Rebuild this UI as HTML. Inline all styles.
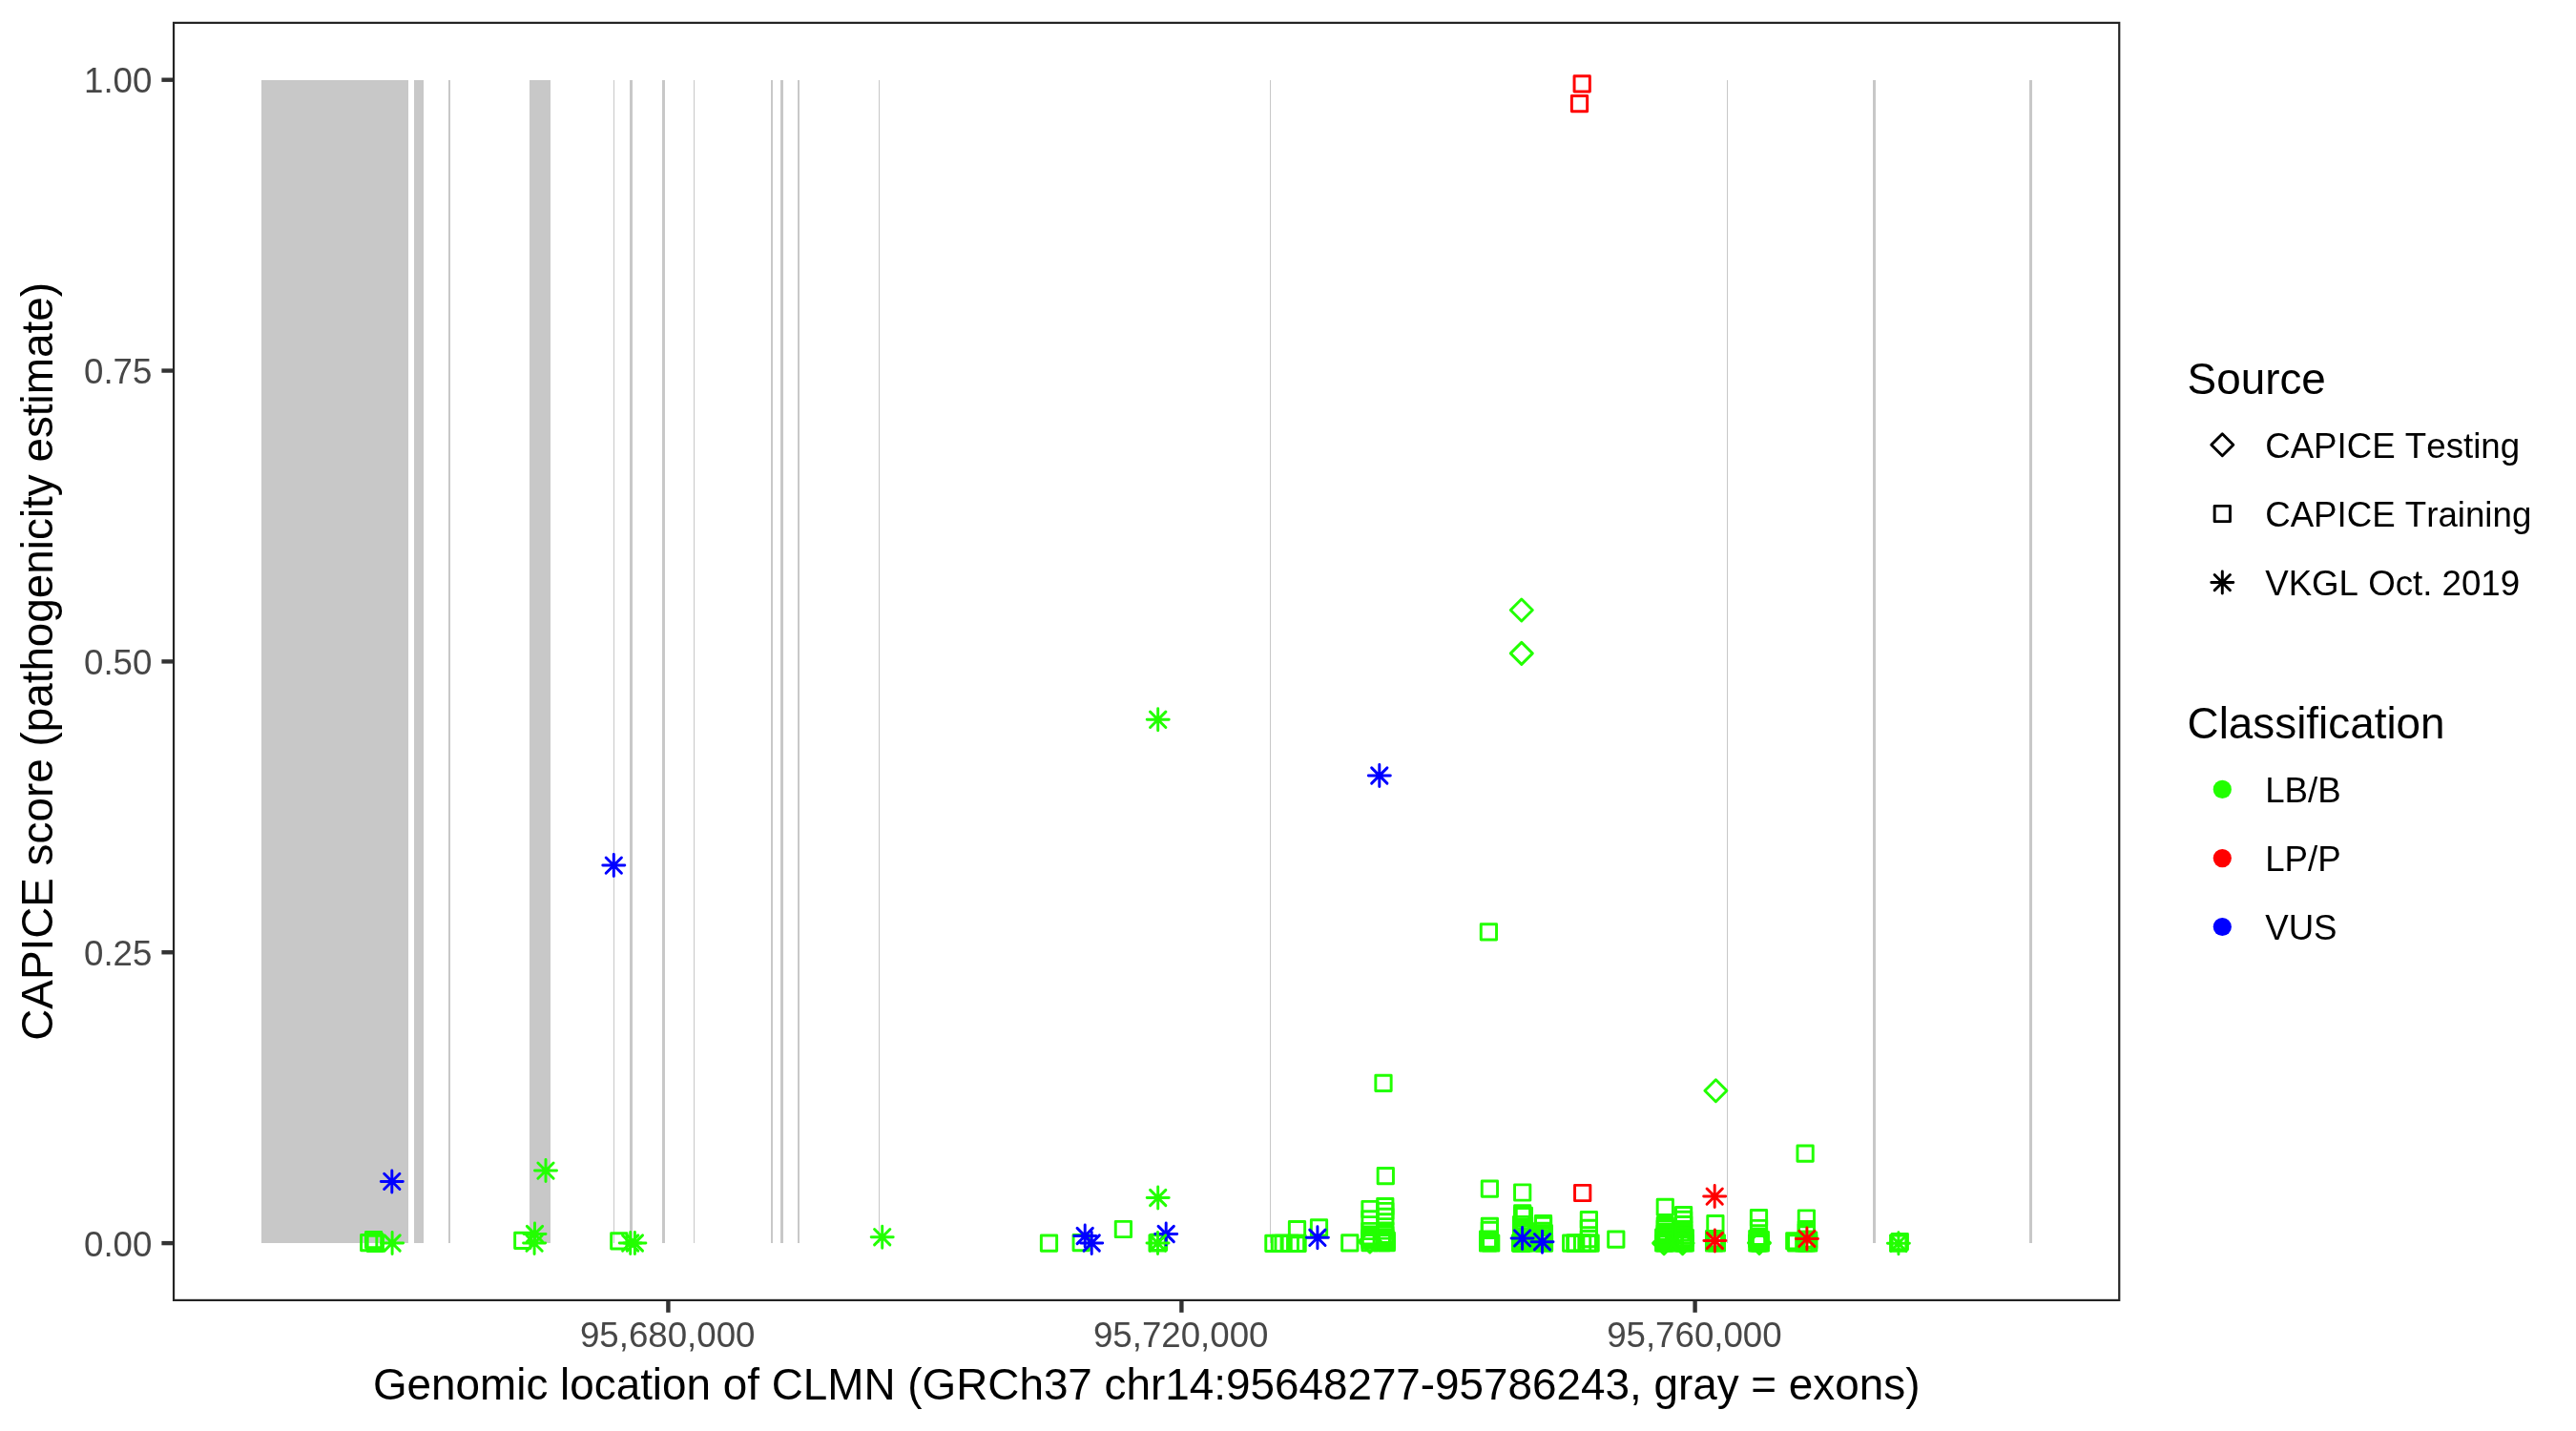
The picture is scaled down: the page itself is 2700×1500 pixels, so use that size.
<!DOCTYPE html>
<html><head><meta charset="utf-8"><title>CLMN CAPICE scores</title>
<style>
html,body{margin:0;padding:0;background:#fff;}
body{width:2700px;height:1500px;overflow:hidden;}
svg{display:block;will-change:transform;font-kerning:none;font-variant-ligatures:none;font-feature-settings:"kern" 0,"liga" 0;font-family:"Liberation Sans",sans-serif;}
</style></head><body>
<svg width="2700" height="1500" viewBox="0 0 2700 1500">
<defs>
<rect id="sq" x="-8.14" y="-8.14" width="16.28" height="16.28" fill="none" stroke-width="2.95" stroke-linejoin="round"/>
<path id="st" d="M-11.51,0H11.51M0,-11.51V11.51M-8.14,-8.14L8.14,8.14M-8.14,8.14L8.14,-8.14" fill="none" stroke-width="2.95" stroke-linecap="round"/>
<path id="di" d="M-11.51,0L0,-11.51L11.51,0L0,11.51Z" fill="none" stroke-width="2.95" stroke-linejoin="round"/>
</defs>
<rect x="0" y="0" width="2700" height="1500" fill="#ffffff"/>
<g fill="#c8c8c8" shape-rendering="crispEdges"><rect x="274.0" y="83.9" width="153.9" height="1219.0"/><rect x="434.0" y="83.9" width="10.0" height="1219.0"/><rect x="470.0" y="83.9" width="2.0" height="1219.0"/><rect x="554.9" y="83.9" width="22.1" height="1219.0"/><rect x="643.0" y="83.9" width="1.0" height="1219.0"/><rect x="660.0" y="83.9" width="3.0" height="1219.0"/><rect x="694.0" y="83.9" width="3.0" height="1219.0"/><rect x="727.0" y="83.9" width="1.0" height="1219.0"/><rect x="808.0" y="83.9" width="2.0" height="1219.0"/><rect x="818.0" y="83.9" width="3.0" height="1219.0"/><rect x="836.0" y="83.9" width="2.0" height="1219.0"/><rect x="921.0" y="83.9" width="1.0" height="1219.0"/><rect x="1331.0" y="83.9" width="1.0" height="1219.0"/><rect x="1810.0" y="83.9" width="1.0" height="1219.0"/><rect x="1963.0" y="83.9" width="3.0" height="1219.0"/><rect x="2127.0" y="83.9" width="3.0" height="1219.0"/></g>
<g><use href="#sq" x="386.7" y="1302.7" stroke="#22ff00"/><use href="#sq" x="391.6" y="1299.6" stroke="#22ff00"/><use href="#sq" x="393.3" y="1303.4" stroke="#22ff00"/><use href="#sq" x="392.6" y="1301.5" stroke="#22ff00"/><use href="#sq" x="547.8" y="1300.3" stroke="#22ff00"/><use href="#sq" x="648.8" y="1300.9" stroke="#22ff00"/><use href="#sq" x="1099.5" y="1303.2" stroke="#22ff00"/><use href="#sq" x="1133.2" y="1302.7" stroke="#22ff00"/><use href="#sq" x="1177.4" y="1288.5" stroke="#22ff00"/><use href="#sq" x="1213.1" y="1303.0" stroke="#22ff00"/><use href="#sq" x="1214.5" y="1302.3" stroke="#22ff00"/><use href="#sq" x="1334.9" y="1303.3" stroke="#22ff00"/><use href="#sq" x="1341.4" y="1303.3" stroke="#22ff00"/><use href="#sq" x="1345.1" y="1303.3" stroke="#22ff00"/><use href="#sq" x="1352.3" y="1303.3" stroke="#22ff00"/><use href="#sq" x="1358.5" y="1303.3" stroke="#22ff00"/><use href="#sq" x="1360.1" y="1303.3" stroke="#22ff00"/><use href="#sq" x="1359.5" y="1288.6" stroke="#22ff00"/><use href="#sq" x="1382.5" y="1286.9" stroke="#22ff00"/><use href="#sq" x="1414.8" y="1302.9" stroke="#22ff00"/><use href="#sq" x="1436.0" y="1267.5" stroke="#22ff00"/><use href="#sq" x="1436.0" y="1277.8" stroke="#22ff00"/><use href="#sq" x="1436.0" y="1295.8" stroke="#22ff00"/><use href="#sq" x="1436.0" y="1299.8" stroke="#22ff00"/><use href="#sq" x="1436.0" y="1302.6" stroke="#22ff00"/><use href="#sq" x="1448.4" y="1300.0" stroke="#22ff00"/><use href="#sq" x="1448.4" y="1302.6" stroke="#22ff00"/><use href="#sq" x="1451.8" y="1264.6" stroke="#22ff00"/><use href="#sq" x="1451.8" y="1269.5" stroke="#22ff00"/><use href="#sq" x="1451.8" y="1275.3" stroke="#22ff00"/><use href="#sq" x="1451.8" y="1294.4" stroke="#22ff00"/><use href="#sq" x="1451.8" y="1297.3" stroke="#22ff00"/><use href="#sq" x="1453.3" y="1300.3" stroke="#22ff00"/><use href="#sq" x="1453.3" y="1302.6" stroke="#22ff00"/><use href="#sq" x="1436.0" y="1297.8" stroke="#22ff00"/><use href="#sq" x="1451.8" y="1299.0" stroke="#22ff00"/><use href="#sq" x="1436.0" y="1290.5" stroke="#22ff00"/><use href="#sq" x="1451.8" y="1290.0" stroke="#22ff00"/><use href="#sq" x="1452.3" y="1232.6" stroke="#22ff00"/><use href="#sq" x="1450.0" y="1135.3" stroke="#22ff00"/><use href="#sq" x="1560.4" y="976.9" stroke="#22ff00"/><use href="#sq" x="1561.4" y="1246.2" stroke="#22ff00"/><use href="#sq" x="1561.4" y="1285.4" stroke="#22ff00"/><use href="#sq" x="1561.4" y="1289.3" stroke="#22ff00"/><use href="#sq" x="1559.6" y="1299.0" stroke="#22ff00"/><use href="#sq" x="1562.7" y="1303.0" stroke="#22ff00"/><use href="#sq" x="1559.6" y="1303.0" stroke="#22ff00"/><use href="#sq" x="1561.4" y="1301.0" stroke="#22ff00"/><use href="#sq" x="1595.7" y="1250.0" stroke="#22ff00"/><use href="#sq" x="1595.7" y="1271.8" stroke="#22ff00"/><use href="#sq" x="1595.7" y="1274.3" stroke="#22ff00"/><use href="#sq" x="1594.6" y="1283.5" stroke="#22ff00"/><use href="#sq" x="1597.4" y="1286.0" stroke="#22ff00"/><use href="#sq" x="1594.6" y="1288.5" stroke="#22ff00"/><use href="#sq" x="1597.4" y="1291.0" stroke="#22ff00"/><use href="#sq" x="1594.6" y="1293.5" stroke="#22ff00"/><use href="#sq" x="1597.4" y="1296.0" stroke="#22ff00"/><use href="#sq" x="1594.6" y="1298.5" stroke="#22ff00"/><use href="#sq" x="1597.4" y="1301.0" stroke="#22ff00"/><use href="#sq" x="1594.6" y="1303.5" stroke="#22ff00"/><use href="#sq" x="1593.6" y="1303.0" stroke="#22ff00"/><use href="#sq" x="1597.2" y="1303.0" stroke="#22ff00"/><use href="#sq" x="1597.4" y="1274.3" stroke="#22ff00"/><use href="#sq" x="1606.5" y="1303.0" stroke="#22ff00"/><use href="#sq" x="1606.5" y="1297.0" stroke="#22ff00"/><use href="#sq" x="1606.5" y="1300.0" stroke="#22ff00"/><use href="#sq" x="1617.5" y="1282.7" stroke="#22ff00"/><use href="#sq" x="1617.5" y="1284.5" stroke="#22ff00"/><use href="#sq" x="1616.6" y="1290.3" stroke="#22ff00"/><use href="#sq" x="1618.4" y="1292.8" stroke="#22ff00"/><use href="#sq" x="1616.6" y="1295.3" stroke="#22ff00"/><use href="#sq" x="1618.4" y="1297.8" stroke="#22ff00"/><use href="#sq" x="1616.6" y="1300.3" stroke="#22ff00"/><use href="#sq" x="1618.4" y="1302.8" stroke="#22ff00"/><use href="#sq" x="1618.5" y="1303.0" stroke="#22ff00"/><use href="#sq" x="1646.7" y="1303.1" stroke="#22ff00"/><use href="#sq" x="1650.8" y="1303.1" stroke="#22ff00"/><use href="#sq" x="1651.7" y="1303.1" stroke="#22ff00"/><use href="#sq" x="1658.6" y="1303.1" stroke="#22ff00"/><use href="#sq" x="1664.3" y="1303.1" stroke="#22ff00"/><use href="#sq" x="1667.1" y="1303.1" stroke="#22ff00"/><use href="#sq" x="1665.4" y="1278.6" stroke="#22ff00"/><use href="#sq" x="1665.4" y="1287.4" stroke="#22ff00"/><use href="#sq" x="1665.4" y="1298.6" stroke="#22ff00"/><use href="#sq" x="1693.8" y="1299.1" stroke="#22ff00"/><use href="#sq" x="1745.3" y="1265.4" stroke="#22ff00"/><use href="#sq" x="1745.3" y="1284.6" stroke="#22ff00"/><use href="#sq" x="1745.3" y="1287.7" stroke="#22ff00"/><use href="#sq" x="1745.3" y="1295.0" stroke="#22ff00"/><use href="#sq" x="1745.3" y="1299.5" stroke="#22ff00"/><use href="#sq" x="1745.3" y="1303.0" stroke="#22ff00"/><use href="#sq" x="1743.7" y="1303.0" stroke="#22ff00"/><use href="#sq" x="1743.7" y="1297.0" stroke="#22ff00"/><use href="#sq" x="1746.5" y="1291.0" stroke="#22ff00"/><use href="#sq" x="1764.6" y="1273.6" stroke="#22ff00"/><use href="#sq" x="1764.6" y="1278.3" stroke="#22ff00"/><use href="#sq" x="1764.6" y="1283.6" stroke="#22ff00"/><use href="#sq" x="1764.6" y="1288.6" stroke="#22ff00"/><use href="#sq" x="1764.6" y="1295.0" stroke="#22ff00"/><use href="#sq" x="1764.6" y="1300.4" stroke="#22ff00"/><use href="#sq" x="1764.6" y="1303.0" stroke="#22ff00"/><use href="#sq" x="1766.3" y="1303.0" stroke="#22ff00"/><use href="#sq" x="1766.3" y="1297.5" stroke="#22ff00"/><use href="#sq" x="1763.5" y="1292.0" stroke="#22ff00"/><use href="#sq" x="1755.0" y="1303.0" stroke="#22ff00"/><use href="#sq" x="1755.0" y="1298.0" stroke="#22ff00"/><use href="#sq" x="1755.0" y="1293.0" stroke="#22ff00"/><use href="#sq" x="1745.3" y="1293.0" stroke="#22ff00"/><use href="#sq" x="1745.3" y="1297.3" stroke="#22ff00"/><use href="#sq" x="1745.3" y="1301.3" stroke="#22ff00"/><use href="#sq" x="1764.6" y="1297.8" stroke="#22ff00"/><use href="#sq" x="1764.6" y="1292.0" stroke="#22ff00"/><use href="#sq" x="1764.6" y="1301.8" stroke="#22ff00"/><use href="#sq" x="1797.9" y="1282.7" stroke="#22ff00"/><use href="#sq" x="1796.6" y="1298.6" stroke="#22ff00"/><use href="#sq" x="1799.4" y="1303.0" stroke="#22ff00"/><use href="#sq" x="1796.6" y="1303.0" stroke="#22ff00"/><use href="#sq" x="1798.0" y="1300.5" stroke="#22ff00"/><use href="#sq" x="1843.5" y="1276.6" stroke="#22ff00"/><use href="#sq" x="1843.5" y="1287.5" stroke="#22ff00"/><use href="#sq" x="1843.5" y="1296.3" stroke="#22ff00"/><use href="#sq" x="1843.5" y="1300.4" stroke="#22ff00"/><use href="#sq" x="1843.5" y="1303.0" stroke="#22ff00"/><use href="#sq" x="1841.8" y="1303.0" stroke="#22ff00"/><use href="#sq" x="1845.3" y="1303.0" stroke="#22ff00"/><use href="#sq" x="1841.8" y="1298.5" stroke="#22ff00"/><use href="#sq" x="1845.3" y="1299.5" stroke="#22ff00"/><use href="#sq" x="1892.1" y="1209.2" stroke="#22ff00"/><use href="#sq" x="1893.4" y="1277.0" stroke="#22ff00"/><use href="#sq" x="1893.4" y="1288.6" stroke="#22ff00"/><use href="#sq" x="1893.4" y="1291.3" stroke="#22ff00"/><use href="#sq" x="1893.4" y="1299.0" stroke="#22ff00"/><use href="#sq" x="1893.4" y="1303.0" stroke="#22ff00"/><use href="#sq" x="1895.7" y="1303.0" stroke="#22ff00"/><use href="#sq" x="1880.8" y="1300.9" stroke="#22ff00"/><use href="#sq" x="1882.7" y="1303.0" stroke="#22ff00"/><use href="#sq" x="1890.8" y="1303.0" stroke="#22ff00"/><use href="#sq" x="1893.4" y="1294.0" stroke="#22ff00"/><use href="#sq" x="1895.7" y="1300.0" stroke="#22ff00"/><use href="#sq" x="1989.7" y="1303.2" stroke="#22ff00"/><use href="#sq" x="1991.3" y="1301.6" stroke="#22ff00"/><use href="#di" x="1594.8" y="639.5" stroke="#22ff00"/><use href="#di" x="1594.8" y="684.9" stroke="#22ff00"/><use href="#di" x="1798.4" y="1143.3" stroke="#22ff00"/><use href="#di" x="1435.9" y="1301.4" stroke="#22ff00"/><use href="#di" x="1744.1" y="1303.1" stroke="#22ff00"/><use href="#di" x="1763.6" y="1303.1" stroke="#22ff00"/><use href="#di" x="1844.0" y="1302.9" stroke="#22ff00"/><use href="#st" x="1222.2" y="1293.5" stroke="#0000ff"/><use href="#st" x="1213.7" y="754.3" stroke="#22ff00"/><use href="#st" x="572.0" y="1227.1" stroke="#22ff00"/><use href="#st" x="411.1" y="1303.0" stroke="#22ff00"/><use href="#st" x="560.5" y="1293.5" stroke="#22ff00"/><use href="#st" x="560.1" y="1303.1" stroke="#22ff00"/><use href="#st" x="660.7" y="1303.0" stroke="#22ff00"/><use href="#st" x="665.4" y="1303.0" stroke="#22ff00"/><use href="#st" x="924.7" y="1296.7" stroke="#22ff00"/><use href="#st" x="1213.7" y="1255.5" stroke="#22ff00"/><use href="#st" x="1213.5" y="1303.0" stroke="#22ff00"/><use href="#st" x="1989.9" y="1303.2" stroke="#22ff00"/><use href="#st" x="643.3" y="907.1" stroke="#0000ff"/><use href="#st" x="410.8" y="1238.4" stroke="#0000ff"/><use href="#st" x="1445.8" y="813.0" stroke="#0000ff"/><use href="#st" x="1137.2" y="1295.5" stroke="#0000ff"/><use href="#st" x="1144.2" y="1303.0" stroke="#0000ff"/><use href="#st" x="1380.9" y="1297.3" stroke="#0000ff"/><use href="#st" x="1595.6" y="1297.9" stroke="#0000ff"/><use href="#st" x="1616.5" y="1301.7" stroke="#0000ff"/><use href="#sq" x="1658.2" y="87.9" stroke="#ff0000"/><use href="#sq" x="1655.5" y="108.7" stroke="#ff0000"/><use href="#sq" x="1658.7" y="1250.5" stroke="#ff0000"/><use href="#st" x="1797.2" y="1254.1" stroke="#ff0000"/><use href="#st" x="1797.4" y="1300.5" stroke="#ff0000"/><use href="#st" x="1893.9" y="1298.4" stroke="#ff0000"/></g>
<rect x="182.05" y="23.9" width="2039.2" height="1339" fill="none" stroke="#242424" stroke-width="2.2"/>
<g stroke="#333333" stroke-width="4.4" fill="none"><path d="M169.4,1303.10H181"/><path d="M169.4,998.25H181"/><path d="M169.4,693.40H181"/><path d="M169.4,388.55H181"/><path d="M169.4,83.70H181"/><path d="M700.4,1364V1375.8"/><path d="M1238.4,1364V1375.8"/><path d="M1776.6,1364V1375.8"/></g>
<g fill="#474747" font-size="36.67px"><text x="159.4" y="1316.7" text-anchor="end">0.00</text><text x="159.4" y="1011.8" text-anchor="end">0.25</text><text x="159.4" y="707.0" text-anchor="end">0.50</text><text x="159.4" y="402.1" text-anchor="end">0.75</text><text x="159.4" y="97.3" text-anchor="end">1.00</text><text x="699.6999999999999" y="1412.1" text-anchor="middle">95,680,000</text><text x="1237.7" y="1412.1" text-anchor="middle">95,720,000</text><text x="1775.8999999999999" y="1412.1" text-anchor="middle">95,760,000</text></g>
<g fill="#000000" font-size="45.83px"><text x="1201.7" y="1466.9" text-anchor="middle">Genomic location of CLMN (GRCh37 chr14:95648277-95786243, gray = exons)</text><text transform="translate(55.1,693.4) rotate(-90)" text-anchor="middle">CAPICE score (pathogenicity estimate)</text><text x="2292.6" y="412.8">Source</text><text x="2292.6" y="773.9">Classification</text></g>
<g fill="#000000" font-size="36.67px"><text x="2374.2" y="480.0">CAPICE Testing</text><text x="2374.2" y="551.9">CAPICE Training</text><text x="2374.2" y="624.0">VKGL Oct. 2019</text><text x="2374.2" y="840.6">LB/B</text><text x="2374.2" y="913.0">LP/P</text><text x="2374.2" y="984.7">VUS</text></g>
<use href="#di" x="2329.3" y="466.3" stroke="#000"/><use href="#sq" x="2329.3" y="538.5" stroke="#000"/><use href="#st" x="2329.3" y="610.6" stroke="#000"/><circle cx="2329.3" cy="827.4" r="9.6" fill="#22ff00"/><circle cx="2329.3" cy="899.6" r="9.6" fill="#ff0000"/><circle cx="2329.3" cy="971.5" r="9.6" fill="#0000ff"/>
</svg></body></html>
